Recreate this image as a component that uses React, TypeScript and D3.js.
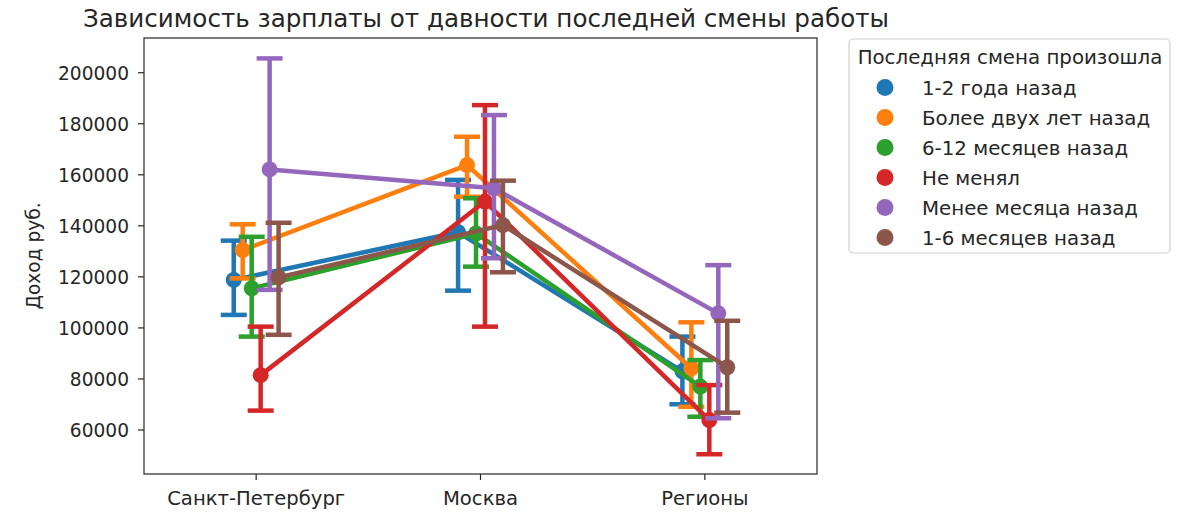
import * as d3 from "d3";

// categories on the x axis
const cities = ["Санкт-Петербург", "Москва", "Регионы"];

// hue levels, legend order
const groups = [
  "1-2 года назад",
  "Более двух лет назад",
  "6-12 месяцев назад",
  "Не менял",
  "Менее месяца назад",
  "1-6 месяцев назад",
];

const colors = ["#1f77b4", "#ff7f0e", "#2ca02c", "#d62728", "#9467bd", "#8c564b"];

// mean income per group, one value per city
const means = [
  [118800, 137500, 83000],
  [130500, 163800, 84200],
  [115500, 137000, 77000],
  [81500, 149500, 63900],
  [162100, 154700, 105700],
  [119800, 140300, 84600],
];

// confidence interval bounds
const lower = [
  [105100, 114600, 70100],
  [119400, 151400, 69100],
  [96600, 124000, 65200],
  [67600, 100500, 50500],
  [114900, 127300, 64600],
  [97300, 121800, 66800],
];

const upper = [
  [134200, 158000, 96600],
  [140600, 174900, 102200],
  [135700, 150800, 87400],
  [100500, 187300, 77600],
  [205600, 183400, 124600],
  [141200, 157700, 102800],
];

const yTicks = [60000, 80000, 100000, 120000, 140000, 160000, 180000, 200000];

const W = 1186;
const H = 528;
const FONT = "DejaVu Sans";

const x = d3.scaleLinear().domain([-0.5, 2.5]).range([144, 817]);
const y = d3.scaleLinear().domain([42760, 213600]).range([474, 38]);

const dodge = 0.2;
const offsets = groups.map((_, j) => -dodge / 2 + (dodge / (groups.length - 1)) * j);

const LW = 4.5;
const CAP = 13;
const R = 8;

function Label(props: {
  x: number;
  y: number;
  size: number;
  sx?: number;
  anchor?: string;
  rotate?: number;
  children: React.ReactNode;
}) {
  const rot = props.rotate ? ` rotate(${props.rotate})` : "";
  return (
    <text
      transform={`translate(${props.x},${props.y})${rot} scale(${props.sx ?? 0.93},1)`}
      fontFamily={FONT}
      fontSize={props.size}
      textAnchor={props.anchor ?? "start"}
      fill="#262626"
    >
      {props.children}
    </text>
  );
}

export default function App() {
  const line = d3
    .line<number>()
    .x((_, i) => x(i))
    .y((d) => y(d));

  return (
    <svg width={W} height={H} style={{ display: "block", position: "absolute", left: 0, top: 0 }}>
      <rect width={W} height={H} fill="#fff" />

      <Label x={486} y={27} size={24} sx={1.025} anchor="middle">
        Зависимость зарплаты от давности последней смены работы
      </Label>

      {/* y axis */}
      {yTicks.map((t) => (
        <g key={t}>
          <line x1={138} x2={144} y1={y(t)} y2={y(t)} stroke="#262626" strokeWidth={1.2} />
          <Label x={129} y={y(t) + 7} size={20} anchor="end">
            {t}
          </Label>
        </g>
      ))}
      <Label x={40} y={256} size={20} anchor="middle" rotate={-90}>
        Доход руб.
      </Label>

      {/* x axis */}
      {cities.map((c, i) => (
        <g key={c}>
          <line x1={x(i)} x2={x(i)} y1={474} y2={480} stroke="#262626" strokeWidth={1.2} />
          <Label x={x(i)} y={505} size={20} sx={0.98} anchor="middle">
            {c}
          </Label>
        </g>
      ))}

      {/* series */}
      {groups.map((g, j) => {
        const dx = offsets[j];
        const c = colors[j];
        return (
          <g key={g}>
            <path
              d={line(means[j]) ?? ""}
              transform={`translate(${x(dx) - x(0)},0)`}
              fill="none"
              stroke={c}
              strokeWidth={LW}
            />
            {means[j].map((_, i) => {
              const cx = x(i + dx);
              return (
                <g key={i} stroke={c} strokeWidth={LW}>
                  <line x1={cx} x2={cx} y1={y(lower[j][i])} y2={y(upper[j][i])} />
                  <line x1={cx - CAP} x2={cx + CAP} y1={y(lower[j][i])} y2={y(lower[j][i])} />
                  <line x1={cx - CAP} x2={cx + CAP} y1={y(upper[j][i])} y2={y(upper[j][i])} />
                </g>
              );
            })}
            {means[j].map((m, i) => (
              <circle key={i} cx={x(i + dx)} cy={y(m)} r={R} fill={c} />
            ))}
          </g>
        );
      })}

      {/* frame */}
      <rect x={144} y={38} width={673} height={436} fill="none" stroke="#262626" strokeWidth={1.2} />

      {/* legend */}
      <rect x={849} y={39} width={321} height={214} rx={4} fill="#fff" stroke="#d0d0d0" strokeWidth={1.2} />
      <Label x={1010} y={64} size={20} sx={0.99} anchor="middle">
        Последняя смена произошла
      </Label>
      {groups.map((g, j) => (
        <g key={g}>
          <circle cx={885} cy={87.5 + j * 30} r={8.5} fill={colors[j]} />
          <Label x={922} y={94.5 + j * 30} size={20} sx={0.99}>
            {g}
          </Label>
        </g>
      ))}
    </svg>
  );
}
